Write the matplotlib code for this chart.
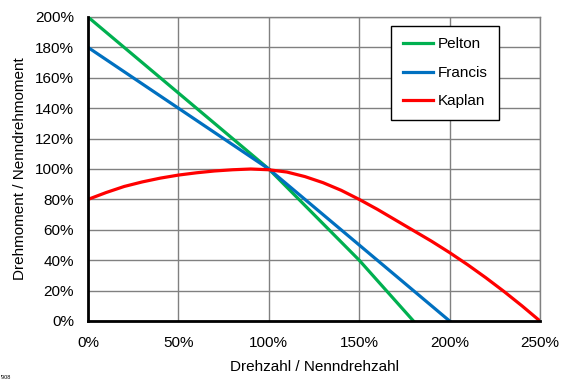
import matplotlib
matplotlib.use("Agg")
import matplotlib.pyplot as plt
from matplotlib.ticker import FuncFormatter

plt.rcParams['font.family'] = ['Liberation Sans', 'DejaVu Sans']

# data (percent of nominal)
pelton_x = [0, 50, 100, 150, 180]
pelton_y = [200, 150, 100, 40, 0]
francis_x = [0, 50, 100, 150, 200]
francis_y = [180, 140, 100, 50, 0]
kaplan_x = [0, 10, 20, 30, 40, 50, 60, 70, 80, 90, 100, 110, 120, 130, 140,
            150, 160, 170, 180, 190, 200, 210, 220, 230, 240, 250]
kaplan_y = [80, 84.5, 88.5, 91.5, 94, 96, 97.5, 98.7, 99.5, 100, 99.5, 98, 95,
            91, 86, 80, 73.5, 66.5, 59.5, 52.5, 45, 37, 28.5, 19.5, 10, 0]
x_ticks = [0, 50, 100, 150, 200, 250]
y_ticks = [0, 20, 40, 60, 80, 100, 120, 140, 160, 180, 200]

fig = plt.figure(figsize=(5.68, 3.82), dpi=100)
ax = fig.add_axes([88/568, 1-321/382, (540-88)/568, (321-17)/382])

ax.plot(pelton_x, pelton_y, color='#00B050', lw=2.3, label='Pelton', zorder=3)
ax.plot(francis_x, francis_y, color='#0070C0', lw=2.3, label='Francis', zorder=3)
ax.plot(kaplan_x, kaplan_y, color='#FF0000', lw=2.3, label='Kaplan', zorder=4)

ax.set_xlim(0, 250)
ax.set_ylim(0, 200)
ax.set_xticks(x_ticks)
ax.set_yticks(y_ticks)
pct = FuncFormatter(lambda v, p: f'{v:.0f}%')
ax.xaxis.set_major_formatter(pct)
ax.yaxis.set_major_formatter(pct)
ax.tick_params(length=0, labelsize=11)
ax.tick_params(axis='x', pad=11)
ax.tick_params(axis='y', pad=10)
ax.grid(True, color='#808080', lw=1)
ax.set_axisbelow(True)

for s in ['top', 'right']:
    ax.spines[s].set_color('#808080')
    ax.spines[s].set_linewidth(1)
for s in ['left', 'bottom']:
    ax.spines[s].set_color('black')
    ax.spines[s].set_linewidth(2)
    ax.spines[s].set_zorder(5)

ax.set_xlabel('Drehzahl / Nenndrehzahl', fontsize=11, labelpad=7)
ax.set_ylabel('Drehmoment / Nenndrehmoment', fontsize=11, labelpad=6)

leg = ax.legend(loc='upper right', bbox_to_anchor=(499/568, 1-26/382),
                bbox_transform=fig.transFigure, fontsize=11, handlelength=2.0,
                handletextpad=0.3, labelspacing=0.95, borderpad=0.75,
                borderaxespad=0, fancybox=False, framealpha=1)
leg.get_frame().set_edgecolor('black')
leg.get_frame().set_linewidth(1)
leg.set_zorder(6)

fig.text(1/568, 1-379/382, "'908", fontsize=4, va='baseline')

fig.savefig('out.png', dpi=100)
